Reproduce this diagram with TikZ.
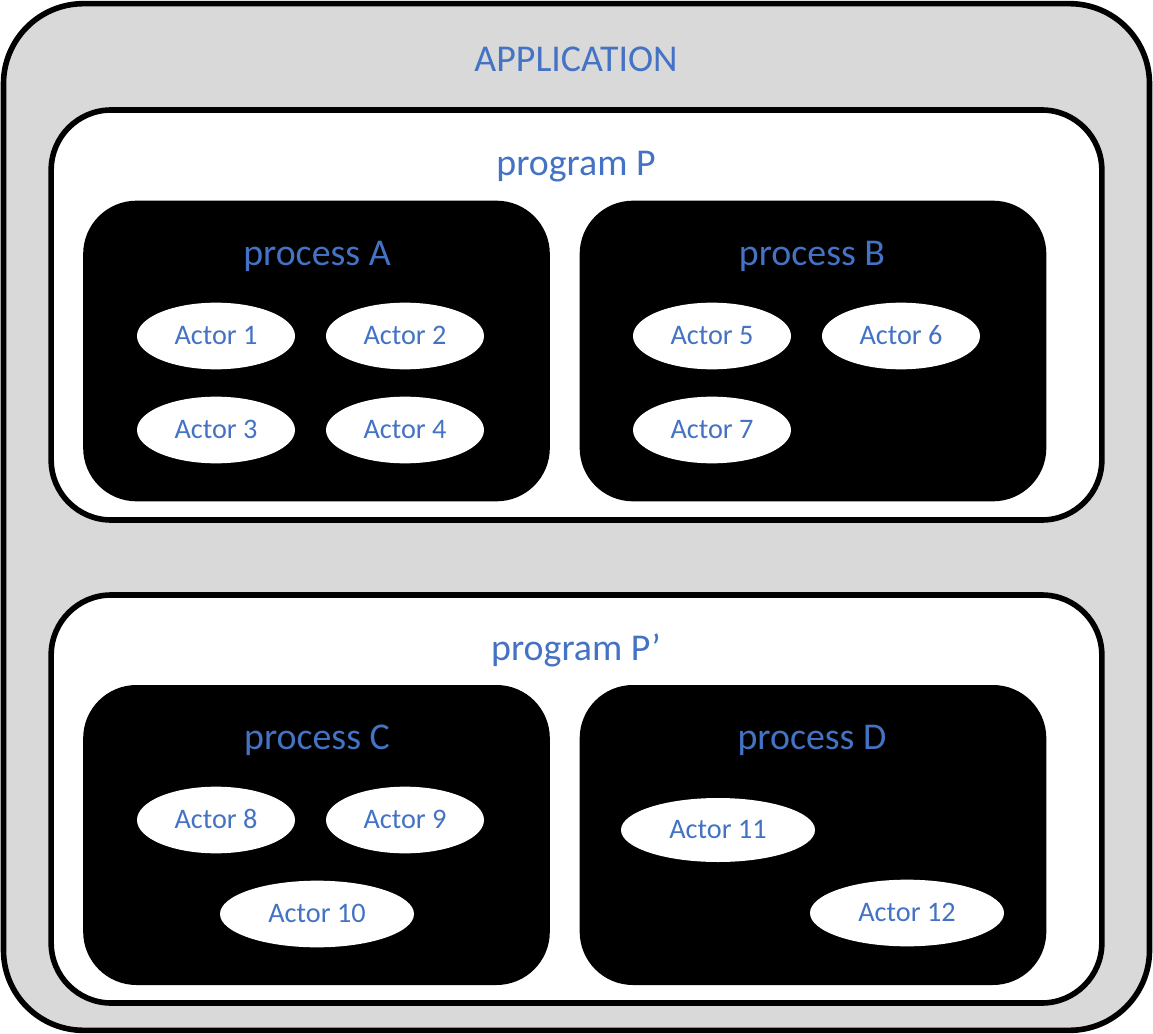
\documentclass[tikz,border=0pt]{standalone}
\usepackage{fontspec}
\setmainfont{Carlito}
\usetikzlibrary{shapes.geometric,positioning}
\definecolor{blue1}{HTML}{4472C4}
\definecolor{grey1}{HTML}{D9D9D9}

\begin{document}
\begin{tikzpicture}[x=0.75pt,y=-0.75pt,
  appbox/.style={draw=black, fill=grey1, line width=4.2pt, rounded corners=60pt, minimum width=859.5pt, minimum height=770pt, inner sep=0pt},
  progbox/.style={draw=black, fill=white, line width=4.2pt, rounded corners=45pt, minimum width=788pt, inner sep=0pt},
  procbox/.style={fill=black, rounded corners=40pt, minimum width=350pt, minimum height=225.5pt, inner sep=0pt},
  title/.style={text=blue1, font=\fontsize{28.4}{30}\selectfont, inner sep=0pt, text height=17.9pt, text depth=0pt},
  actor/.style={ellipse, fill=white, text=blue1, font=\fontsize{21.2}{24}\selectfont, inner sep=0pt, text height=13.4pt, text depth=0pt, minimum width=118.5pt, minimum height=50pt},
  wideactor/.style={actor, minimum width=145.5pt}]
  \useasboundingbox (0,0) rectangle (1153,1034);
  % outer frame
  \node[appbox] (app) at (576.5,517) {};
  \node[title] (apptitle) at (576,60) {APPLICATION};
  % programs
  \node[progbox, minimum height=307.5pt] (progP) at (576.5,315) {};
  \node[progbox, minimum height=306pt] (progQ) at (576.5,799) {};
  \node[title] (progPtitle) at (576,164) {program P};
  \node[title] (progQtitle) at (576,649) {program P’};
  % processes
  \node[procbox] (procA) at (316.5,351) {};
  \node[procbox] (procB) at (813,351) {};
  \node[procbox, minimum height=225pt] (procC) at (316.5,835) {};
  \node[procbox, minimum height=225pt] (procD) at (813,835) {};
  \node[title] (procAtitle) at (317,254) {process A};
  \node[title] (procBtitle) at (812,254) {process B};
  \node[title] (procCtitle) at (317,738) {process C};
  \node[title] (procDtitle) at (812,738) {process D};
  % actors
  \node[actor] (a1) at (216,336) {Actor 1};
  \node[actor] (a2) at (405,336) {Actor 2};
  \node[actor] (a3) at (216,430) {Actor 3};
  \node[actor] (a4) at (405,430) {Actor 4};
  \node[actor] (a5) at (712,336) {Actor 5};
  \node[actor] (a6) at (901,336) {Actor 6};
  \node[actor] (a7) at (712,430) {Actor 7};
  \node[actor] (a8) at (216,820) {Actor 8};
  \node[actor] (a9) at (405,820) {Actor 9};
  \node[wideactor] (a10) at (317,914) {Actor 10};
  \node[wideactor, minimum height=48pt] (a11) at (718,830) {Actor 11};
  \node[wideactor] (a12) at (907,913) {Actor 12};
\end{tikzpicture}
\end{document}
